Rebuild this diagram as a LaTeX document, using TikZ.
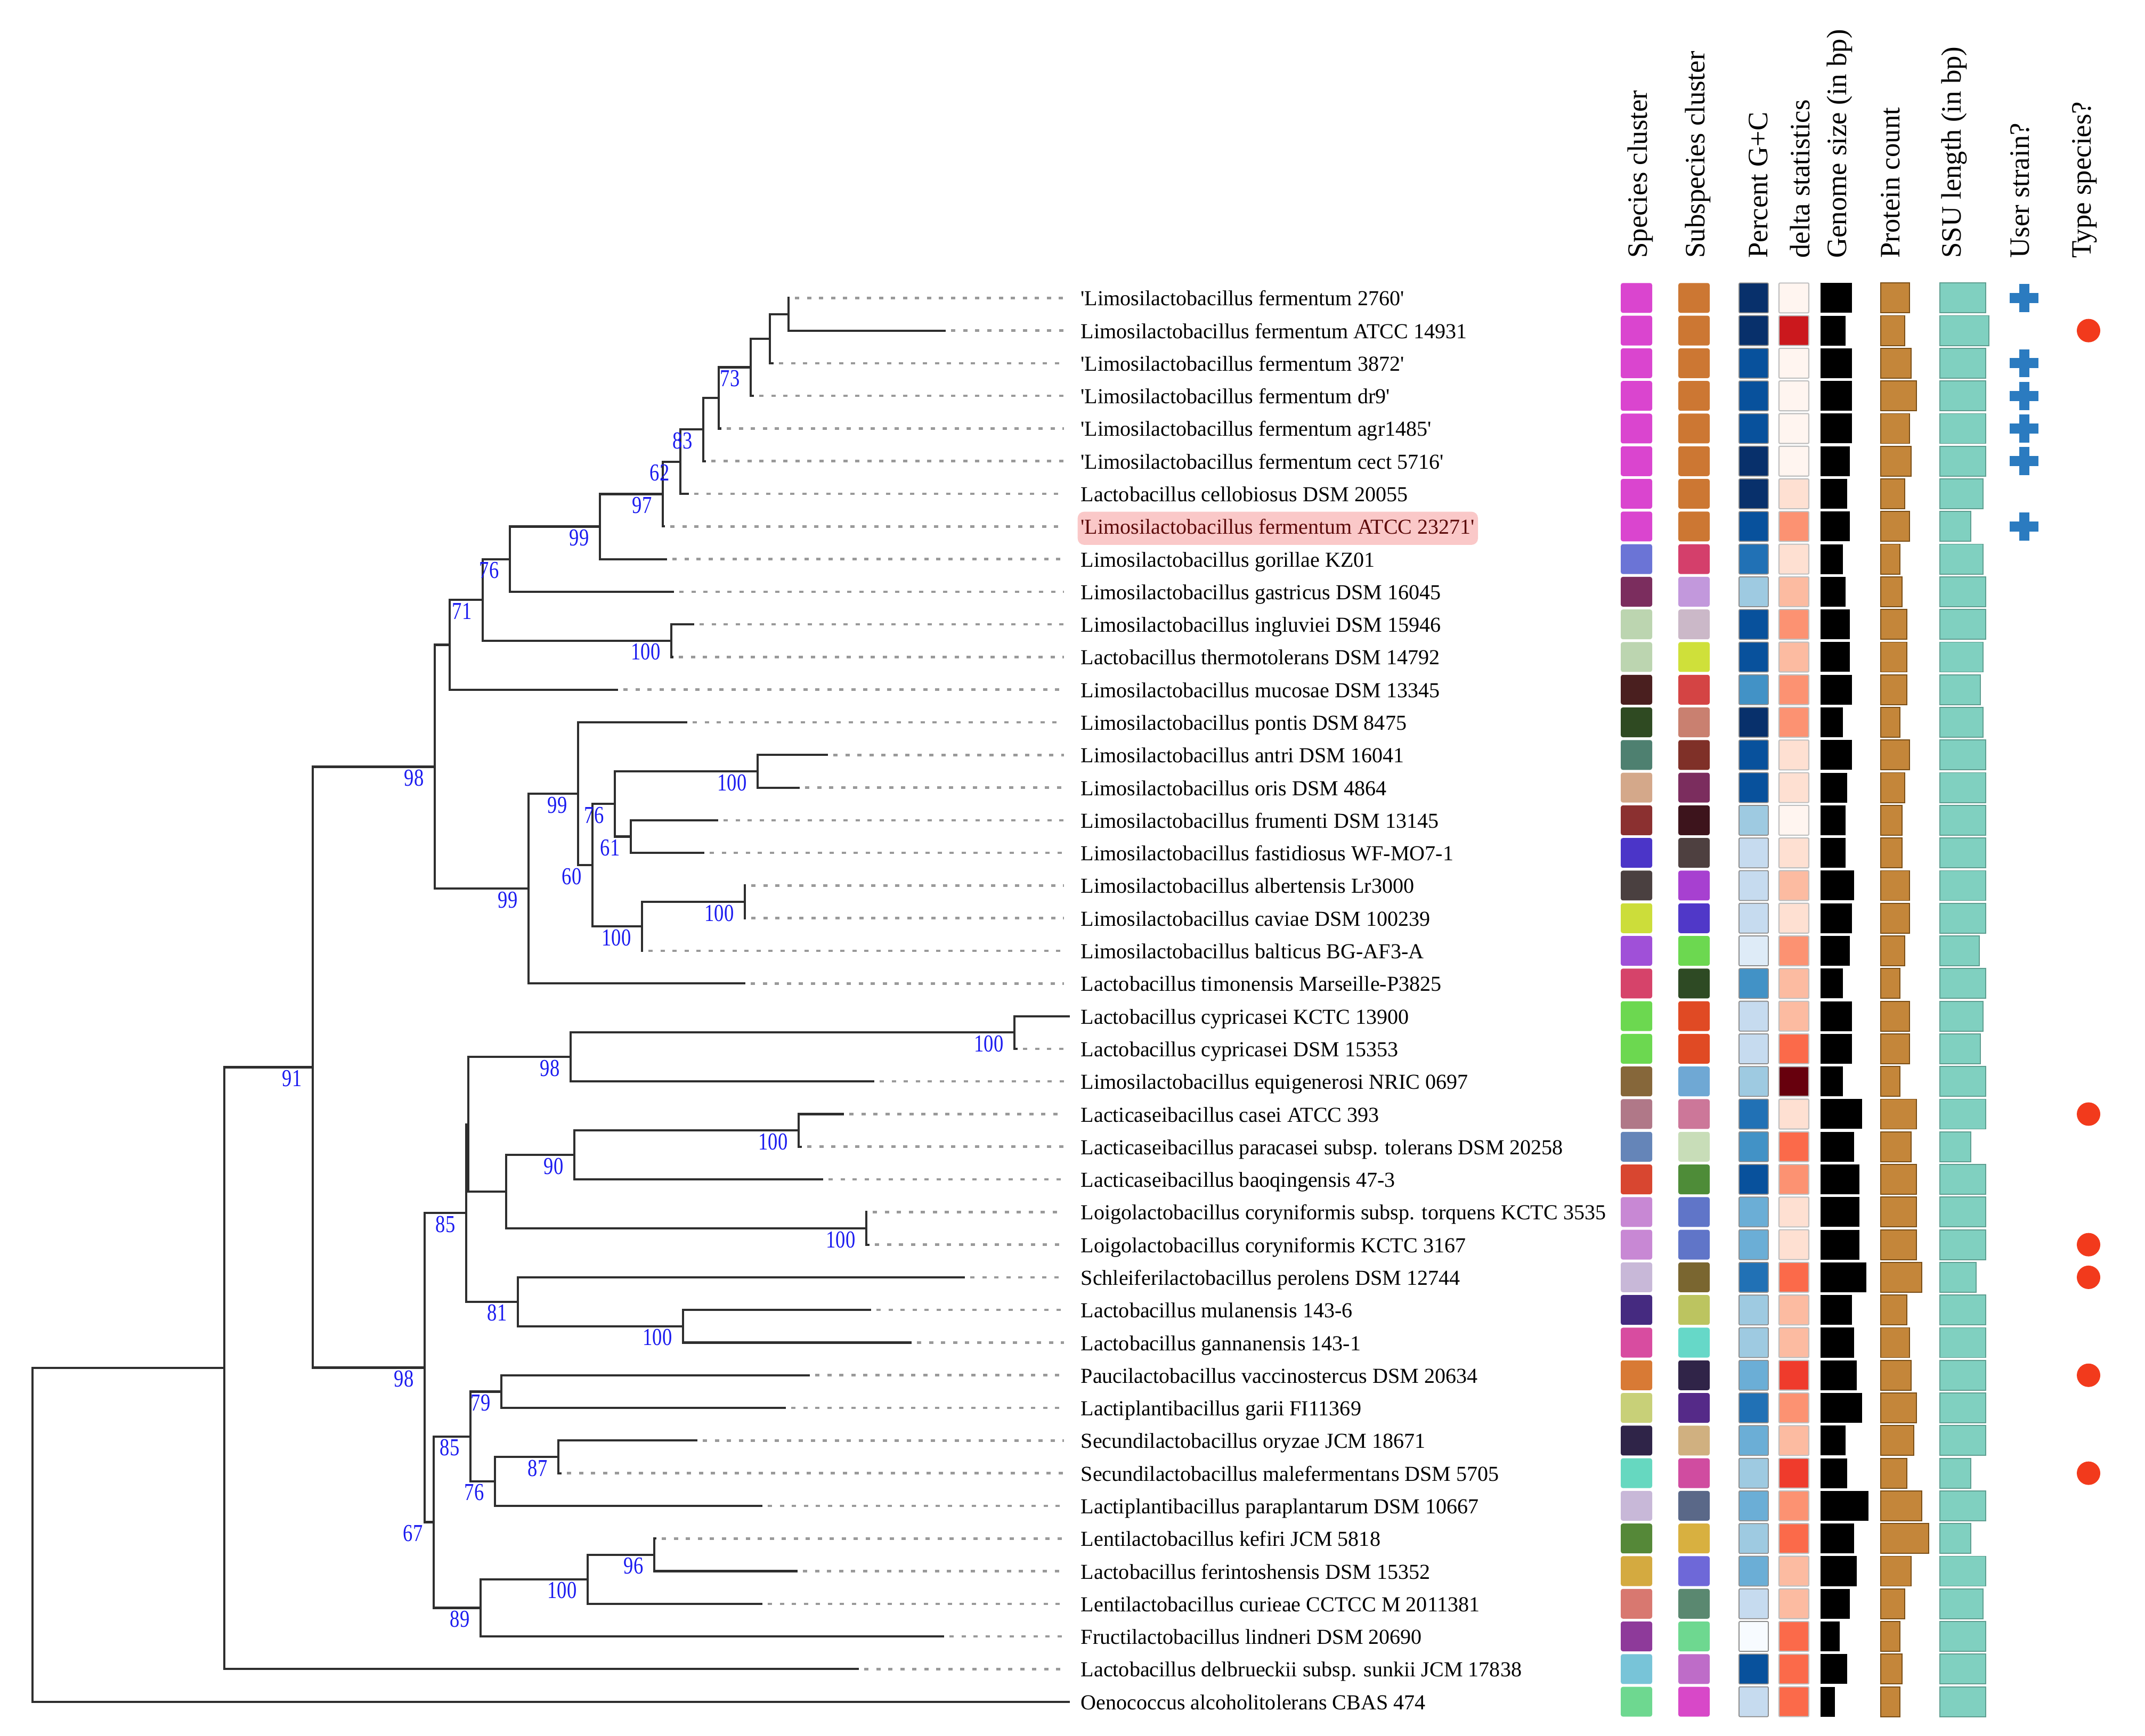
\documentclass[tikz,border=0pt]{standalone}
\usepackage{fontspec}
\setmainfont{Liberation Serif}
\newfontfamily\bootfam[FakeStretch=0.8]{Liberation Serif}
\usepackage{xcolor}

\definecolor{branchgray}{HTML}{2E2E2E}
\definecolor{dotgray}{HTML}{9A9A9A}
\definecolor{bootblue}{HTML}{1A1AF0}
\definecolor{hlpink}{HTML}{FAC8C8}
\definecolor{hltext}{HTML}{5C0A0A}
\definecolor{protfill}{HTML}{C4863A}
\definecolor{protline}{HTML}{7A4E16}
\definecolor{ssufill}{HTML}{80D0C0}
\definecolor{ssuline}{HTML}{5E9E90}
\definecolor{plusblue}{HTML}{2B7BC0}
\definecolor{dotred}{HTML}{F23A1C}
\definecolor{gc1}{HTML}{F7FBFF}
\definecolor{gc2}{HTML}{DEEBF7}
\definecolor{gc3}{HTML}{C6DBEF}
\definecolor{gc4}{HTML}{9ECAE1}
\definecolor{gc5}{HTML}{6BAED6}
\definecolor{gc6}{HTML}{4292C6}
\definecolor{gc7}{HTML}{2171B5}
\definecolor{gc8}{HTML}{08519C}
\definecolor{gc9}{HTML}{08306B}
\definecolor{dl1}{HTML}{FFF5F0}
\definecolor{dl2}{HTML}{FEE0D2}
\definecolor{dl3}{HTML}{FCBBA1}
\definecolor{dl4}{HTML}{FC9272}
\definecolor{dl5}{HTML}{FB6A4A}
\definecolor{dl6}{HTML}{EF3B2C}
\definecolor{dl7}{HTML}{CB181D}
\definecolor{dl8}{HTML}{67000D}

\newcommand{\strainq}[1]{\textquotesingle#1\textquotesingle}

\tikzset{
  branch/.style={draw=branchgray, line width=1.2pt, line cap=rect},
  leafdots/.style={draw=dotgray, line width=1.3pt, dash pattern=on 2.3pt off 4.1pt, shorten <=0.12cm, shorten >=0.31cm},
  leaflab/.style={anchor=base west, inner sep=0pt, yshift=-0.145cm, font=\fontsize{11.4}{13}\selectfont},
  bootval/.style={anchor=north east, inner sep=0pt, xshift=-0.2cm, yshift=-0.05cm, text=bootblue, font=\bootfam\fontsize{13}{13}\selectfont},
  colhead/.style={rotate=90, anchor=base west, inner sep=0pt, font=\fontsize{15}{17}\selectfont},
  clusterbox/.style={rounded corners=0.04cm},
  gcbox/.style={draw=black!45, line width=0.5pt, rounded corners=0.02cm},
  deltabox/.style={draw=black!25, line width=0.6pt, rounded corners=0.02cm},
  protbox/.style={fill=protfill, draw=protline, line width=0.5pt},
  ssubox/.style={fill=ssufill, draw=ssuline, line width=0.5pt},
  userplus/.style={draw=plusblue, line width=0.19cm},
  typedot/.style={fill=dotred}
}

\begin{document}
\begin{tikzpicture}[x=0.01cm, y=-0.6125cm]
    \useasboundingbox (0,-9.1265) rectangle (4026,44.049);

    % leaves: tip, label, dotted guide
    \foreach \row/\tx/\dt/\nm in {
        0/1480/1/{\strainq{Limosilactobacillus fermentum 2760}},
        1/1773/1/{Limosilactobacillus fermentum ATCC 14931},
        2/1450/1/{\strainq{Limosilactobacillus fermentum 3872}},
        3/1413/1/{\strainq{Limosilactobacillus fermentum dr9}},
        4/1352/1/{\strainq{Limosilactobacillus fermentum agr1485}},
        5/1323/1/{\strainq{Limosilactobacillus fermentum cect 5716}},
        6/1291/1/{Lactobacillus cellobiosus DSM 20055},
        8/1250/1/{Limosilactobacillus gorillae KZ01},
        9/1263/1/{Limosilactobacillus gastricus DSM 16045},
        10/1301/1/{Limosilactobacillus ingluviei DSM 15946},
        11/1262/1/{Lactobacillus thermotolerans DSM 14792},
        12/1158/1/{Limosilactobacillus mucosae DSM 13345},
        13/1288/1/{Limosilactobacillus pontis DSM 8475},
        14/1552/1/{Limosilactobacillus antri DSM 16041},
        15/1499/1/{Limosilactobacillus oris DSM 4864},
        16/1346/1/{Limosilactobacillus frumenti DSM 13145},
        17/1320/1/{Limosilactobacillus fastidiosus WF-MO7-1},
        18/1398/1/{Limosilactobacillus albertensis Lr3000},
        19/1398/1/{Limosilactobacillus caviae DSM 100239},
        20/1205/1/{Limosilactobacillus balticus BG-AF3-A},
        21/1397/1/{Lactobacillus timonensis Marseille-P3825},
        22/2006/0/{Lactobacillus cypricasei KCTC 13900},
        23/1908/1/{Lactobacillus cypricasei DSM 15353},
        24/1639/1/{Limosilactobacillus equigenerosi NRIC 0697},
        25/1582/1/{Lacticaseibacillus casei ATCC 393},
        26/1503/1/{Lacticaseibacillus paracasei subsp. tolerans DSM 20258},
        27/1543/1/{Lacticaseibacillus baoqingensis 47-3},
        28/1626/1/{Loigolactobacillus coryniformis subsp. torquens KCTC 3535},
        29/1630/1/{Loigolactobacillus coryniformis KCTC 3167},
        30/1809/1/{Schleiferilactobacillus perolens DSM 12744},
        31/1633/1/{Lactobacillus mulanensis 143-6},
        32/1709/1/{Lactobacillus gannanensis 143-1},
        33/1518/1/{Paucilactobacillus vaccinostercus DSM 20634},
        34/1473/1/{Lactiplantibacillus garii FI11369},
        35/1307/1/{Secundilactobacillus oryzae JCM 18671},
        36/1052/1/{Secundilactobacillus malefermentans DSM 5705},
        37/1429/1/{Lactiplantibacillus paraplantarum DSM 10667},
        38/1230/1/{Lentilactobacillus kefiri JCM 5818},
        39/1495/1/{Lactobacillus ferintoshensis DSM 15352},
        40/1429/1/{Lentilactobacillus curieae CCTCC M 2011381},
        41/1770/1/{Fructilactobacillus lindneri DSM 20690},
        42/1610/1/{Lactobacillus delbrueckii subsp. sunkii JCM 17838},
        43/2006/0/{Oenococcus alcoholitolerans CBAS 474}}{
        \coordinate (t\row) at (\tx,\row);
        \node[leaflab] (l\row) at (2028,\row) {\nm};
        \ifnum\dt=1 \draw[leafdots] (t\row) -- (t\row -| l\row.west); \fi
    }
    \coordinate (t7) at (1246,7);
    \node[leaflab, fill=hlpink, text=hltext, rounded corners=0.12cm, inner xsep=0.06cm, inner ysep=0.14cm, text depth=0.06cm, xshift=-0.06cm] (l7) at (2028,7) {\strainq{Limosilactobacillus fermentum ATCC 23271}};
    \draw[leafdots, shorten >=0.25cm] (t7) -- (t7 -| l7.west);

    % inner nodes
    \coordinate (nA) at (1480,0.5);
    \coordinate (nB) at (1445,1.25);
    \coordinate (nC) at (1409,2.125);
    \coordinate (nD) at (1349,3.0625);
    \coordinate (nE) at (1320,4.031);
    \coordinate (nF) at (1277,5.016);
    \coordinate (nG) at (1244,6.008);
    \coordinate (nH) at (1126,7.004);
    \coordinate (nI) at (957,8.002);
    \coordinate (nJ) at (1260,10.5);
    \coordinate (nK) at (906,9.251);
    \coordinate (nL) at (844,10.626);
    \coordinate (nN) at (1422,14.5);
    \coordinate (nO) at (1184,16.5);
    \coordinate (nP) at (1154,15.5);
    \coordinate (nQ) at (1398,18.5);
    \coordinate (nR) at (1205,19.25);
    \coordinate (nS) at (1112,17.375);
    \coordinate (nT) at (1085,15.188);
    \coordinate (nU) at (992,18.094);
    \coordinate (nM) at (816,14.36);
    \coordinate (nV) at (1904,22.5);
    \coordinate (nW) at (1071,23.25);
    \coordinate (nX) at (1499,25.5);
    \coordinate (nY) at (1078,26.25);
    \coordinate (nZ) at (1626,28.5);
    \coordinate (nAA) at (950,27.375);
    \coordinate (nAB) at (879,25.313);
    \coordinate (nAC) at (1282,31.5);
    \coordinate (nAD) at (972,30.75);
    \coordinate (nAE) at (875,28.031);
    \coordinate (nAF) at (941,33.5);
    \coordinate (nAG) at (1048,35.5);
    \coordinate (nAH) at (929,36.25);
    \coordinate (nAI) at (883,34.875);
    \coordinate (nAJ) at (1228,38.5);
    \coordinate (nAK) at (1103,39.25);
    \coordinate (nAL) at (902,40.125);
    \coordinate (nAM) at (814,37.5);
    \coordinate (nAN) at (797,32.766);
    \coordinate (nAO) at (587,23.563);
    \coordinate (nAP) at (421,32.78);
    \coordinate (root) at (61,37.89);

    % branches
    \draw[branch] (nA) |- (t0) (nA) |- (t1);
    \draw[branch] (nB) |- (nA) (nB) |- (t2);
    \draw[branch] (nC) |- (nB) (nC) |- (t3);
    \draw[branch] (nD) |- (nC) (nD) |- (t4);
    \draw[branch] (nE) |- (nD) (nE) |- (t5);
    \draw[branch] (nF) |- (nE) (nF) |- (t6);
    \draw[branch] (nG) |- (nF) (nG) |- (t7);
    \draw[branch] (nH) |- (nG) (nH) |- (t8);
    \draw[branch] (nI) |- (nH) (nI) |- (t9);
    \draw[branch] (nJ) |- (t10) (nJ) |- (t11);
    \draw[branch] (nK) |- (nI) (nK) |- (nJ);
    \draw[branch] (nL) |- (nK) (nL) |- (t12);
    \draw[branch] (nN) |- (t14) (nN) |- (t15);
    \draw[branch] (nO) |- (t16) (nO) |- (t17);
    \draw[branch] (nP) |- (nN) (nP) |- (nO);
    \draw[branch] (nQ) |- (t18) (nQ) |- (t19);
    \draw[branch] (nR) |- (nQ) (nR) |- (t20);
    \draw[branch] (nS) |- (nP) (nS) |- (nR);
    \draw[branch] (nT) |- (t13) (nT) |- (nS);
    \draw[branch] (nU) |- (nT) (nU) |- (t21);
    \draw[branch] (nM) |- (nL) (nM) |- (nU);
    \draw[branch] (nV) |- (t22) (nV) |- (t23);
    \draw[branch] (nW) |- (nV) (nW) |- (t24);
    \draw[branch] (nX) |- (t25) (nX) |- (t26);
    \draw[branch] (nY) |- (nX) (nY) |- (t27);
    \draw[branch] (nZ) |- (t28) (nZ) |- (t29);
    \draw[branch] (nAA) |- (nY) (nAA) |- (nZ);
    \draw[branch] (nAB) |- (nW) (nAB) |- (nAA);
    \draw[branch] (nAC) |- (t31) (nAC) |- (t32);
    \draw[branch] (nAD) |- (t30) (nAD) |- (nAC);
    \draw[branch] (nAE) |- (nAB) (nAE) |- (nAD);
    \draw[branch] (nAF) |- (t33) (nAF) |- (t34);
    \draw[branch] (nAG) |- (t35) (nAG) |- (t36);
    \draw[branch] (nAH) |- (nAG) (nAH) |- (t37);
    \draw[branch] (nAI) |- (nAF) (nAI) |- (nAH);
    \draw[branch] (nAJ) |- (t38) (nAJ) |- (t39);
    \draw[branch] (nAK) |- (nAJ) (nAK) |- (t40);
    \draw[branch] (nAL) |- (nAK) (nAL) |- (t41);
    \draw[branch] (nAM) |- (nAI) (nAM) |- (nAL);
    \draw[branch] (nAN) |- (nAE) (nAN) |- (nAM);
    \draw[branch] (nAO) |- (nM) (nAO) |- (nAN);
    \draw[branch] (nAP) |- (nAO) (nAP) |- (t42);
    \draw[branch] (root) |- (nAP) (root) |- (t43);

    % support values
    \node[bootval] (bC) at (nC) {73};
    \node[bootval] (bE) at (nE) {83};
    \node[bootval] (bF) at (nF) {62};
    \node[bootval] (bG) at (nG) {97};
    \node[bootval] (bH) at (nH) {99};
    \node[bootval] (bI) at (nI) {76};
    \node[bootval] (bJ) at (nJ) {100};
    \node[bootval] (bK) at (nK) {71};
    \node[bootval] (bM) at (nM) {98};
    \node[bootval] (bN) at (nN) {100};
    \node[bootval] (bO) at (nO) {61};
    \node[bootval] (bP) at (nP) {76};
    \node[bootval] (bQ) at (nQ) {100};
    \node[bootval] (bR) at (nR) {100};
    \node[bootval] (bS) at (nS) {60};
    \node[bootval] (bT) at (nT) {99};
    \node[bootval] (bU) at (nU) {99};
    \node[bootval] (bV) at (nV) {100};
    \node[bootval] (bW) at (nW) {98};
    \node[bootval] (bX) at (nX) {100};
    \node[bootval] (bY) at (nY) {90};
    \node[bootval] (bZ) at (nZ) {100};
    \node[bootval] (bAC) at (nAC) {100};
    \node[bootval] (bAD) at (nAD) {81};
    \node[bootval] (bAE) at (nAE) {85};
    \node[bootval] (bAF) at (nAF) {79};
    \node[bootval] (bAG) at (nAG) {87};
    \node[bootval] (bAH) at (nAH) {76};
    \node[bootval] (bAI) at (nAI) {85};
    \node[bootval] (bAJ) at (nAJ) {96};
    \node[bootval] (bAK) at (nAK) {100};
    \node[bootval] (bAL) at (nAL) {89};
    \node[bootval] (bAM) at (nAM) {67};
    \node[bootval] (bAN) at (nAN) {98};
    \node[bootval] (bAO) at (nAO) {91};

    % column headers
    \node[colhead] (hSpc) at (3091,-1.208) {Species cluster};
    \node[colhead] (hSub) at (3199,-1.208) {Subspecies cluster};
    \node[colhead] (hGC) at (3317,-1.208) {Percent G+C};
    \node[colhead] (hDel) at (3396,-1.208) {delta statistics};
    \node[colhead] (hGen) at (3465,-1.208) {Genome size (in bp)};
    \node[colhead] (hPro) at (3565,-1.208) {Protein count};
    \node[colhead] (hSSU) at (3680,-1.208) {SSU length (in bp)};
    \node[colhead] (hUsr) at (3808,-1.208) {User strain?};
    \node[colhead] (hTyp) at (3924,-1.208) {Type species?};

    % data columns
    \foreach \row/\spc/\ssc/\gcv/\dlv/\gnx/\prx/\sux in {
        0/DA45CF/CC7733/9/1/3476/3584/3727,
        1/DA45CF/CC7733/9/7/3464/3575/3733,
        2/DA45CF/CC7733/8/1/3476/3587/3727,
        3/DA45CF/CC7733/8/1/3476/3597/3727,
        4/DA45CF/CC7733/8/1/3476/3584/3727,
        5/DA45CF/CC7733/9/1/3472/3587/3727,
        6/DA45CF/CC7733/9/2/3467/3575/3722,
        7/DA45CF/CC7733/8/4/3472/3584/3699,
        8/6B74D6/D43F6B/7/2/3459/3566/3722,
        9/7B2D5E/C298DC/4/3/3464/3570/3727,
        10/BCD5B0/CBB8C8/8/4/3472/3579/3727,
        11/BCD5B0/CFE03A/8/3/3472/3579/3722,
        12/4A1F1F/D44444/6/4/3476/3579/3717,
        13/2F4A22/C98070/9/4/3459/3566/3722,
        14/4E8070/7F3028/8/2/3476/3584/3727,
        15/D4A88A/7B2D5E/8/2/3467/3575/3727,
        16/8B3030/3D141C/4/1/3464/3570/3727,
        17/4B35C8/4E4040/3/2/3464/3570/3727,
        18/4A4040/A740D0/3/3/3480/3584/3727,
        19/CCDD3A/5038C8/3/2/3476/3584/3727,
        20/A050D8/6CD850/2/4/3472/3575/3715,
        21/D6436A/2E4A24/6/3/3459/3566/3727,
        22/6CD850/E04A24/3/3/3476/3584/3722,
        23/6CD850/E04A24/3/5/3476/3584/3717,
        24/86673A/6FA8D4/4/8/3459/3566/3727,
        25/B07888/CC7799/7/2/3495/3597/3727,
        26/6585B8/C8DDB8/6/5/3480/3587/3699,
        27/D84630/4E8C38/8/4/3490/3597/3727,
        28/C888D4/6075C8/5/2/3490/3597/3727,
        29/C888D4/6075C8/5/2/3490/3597/3727,
        30/C8B8D8/7A6630/7/5/3503/3607/3709,
        31/452A80/BCC460/4/3/3476/3579/3727,
        32/D84CA0/66D8C8/4/3/3480/3584/3727,
        33/D87A35/302448/5/6/3485/3587/3727,
        34/C8D078/552A88/7/4/3495/3597/3727,
        35/2F2448/D0B080/5/3/3464/3592/3727,
        36/66D8C0/D04CA0/4/6/3467/3579/3699,
        37/C8B8D8/5A6888/5/4/3507/3607/3727,
        38/558838/D8B040/4/5/3480/3620/3699,
        39/D4AA40/6E68D8/5/3/3485/3587/3727,
        40/D87870/5A8870/3/3/3472/3575/3722,
        41/8E3A9A/6ED890/1/5/3453/3566/3727,
        42/78C4D8/BE6CC8/8/5/3467/3570/3727,
        43/6ED890/D848C8/3/5/3444/3566/3727}{
        \definecolor{spcol}{HTML}{\spc}
        \definecolor{sscol}{HTML}{\ssc}
        \fill[spcol, clusterbox] (3042,\row-0.457) rectangle (3101,\row+0.457);
        \fill[sscol, clusterbox] (3150,\row-0.457) rectangle (3209,\row+0.457);
        \filldraw[gcbox, fill=gc\gcv] (3264,\row-0.457) rectangle (3319,\row+0.457);
        \filldraw[deltabox, fill=dl\dlv] (3339,\row-0.457) rectangle (3395,\row+0.457);
        \fill[black] (3417,\row-0.457) rectangle (\gnx,\row+0.457);
        \filldraw[protbox] (3530,\row-0.457) rectangle (\prx,\row+0.457);
        \filldraw[ssubox] (3641,\row-0.457) rectangle (\sux,\row+0.457);
    }

    \foreach \row in {0,2,3,4,5,7}
        \draw[userplus] (3772,\row) -- (3826,\row) (3799,\row-0.43) -- (3799,\row+0.43);
    \foreach \row in {1,25,29,30,33,36}
        \fill[typedot] (3920,\row) circle (0.22cm);
\end{tikzpicture}
\end{document}
